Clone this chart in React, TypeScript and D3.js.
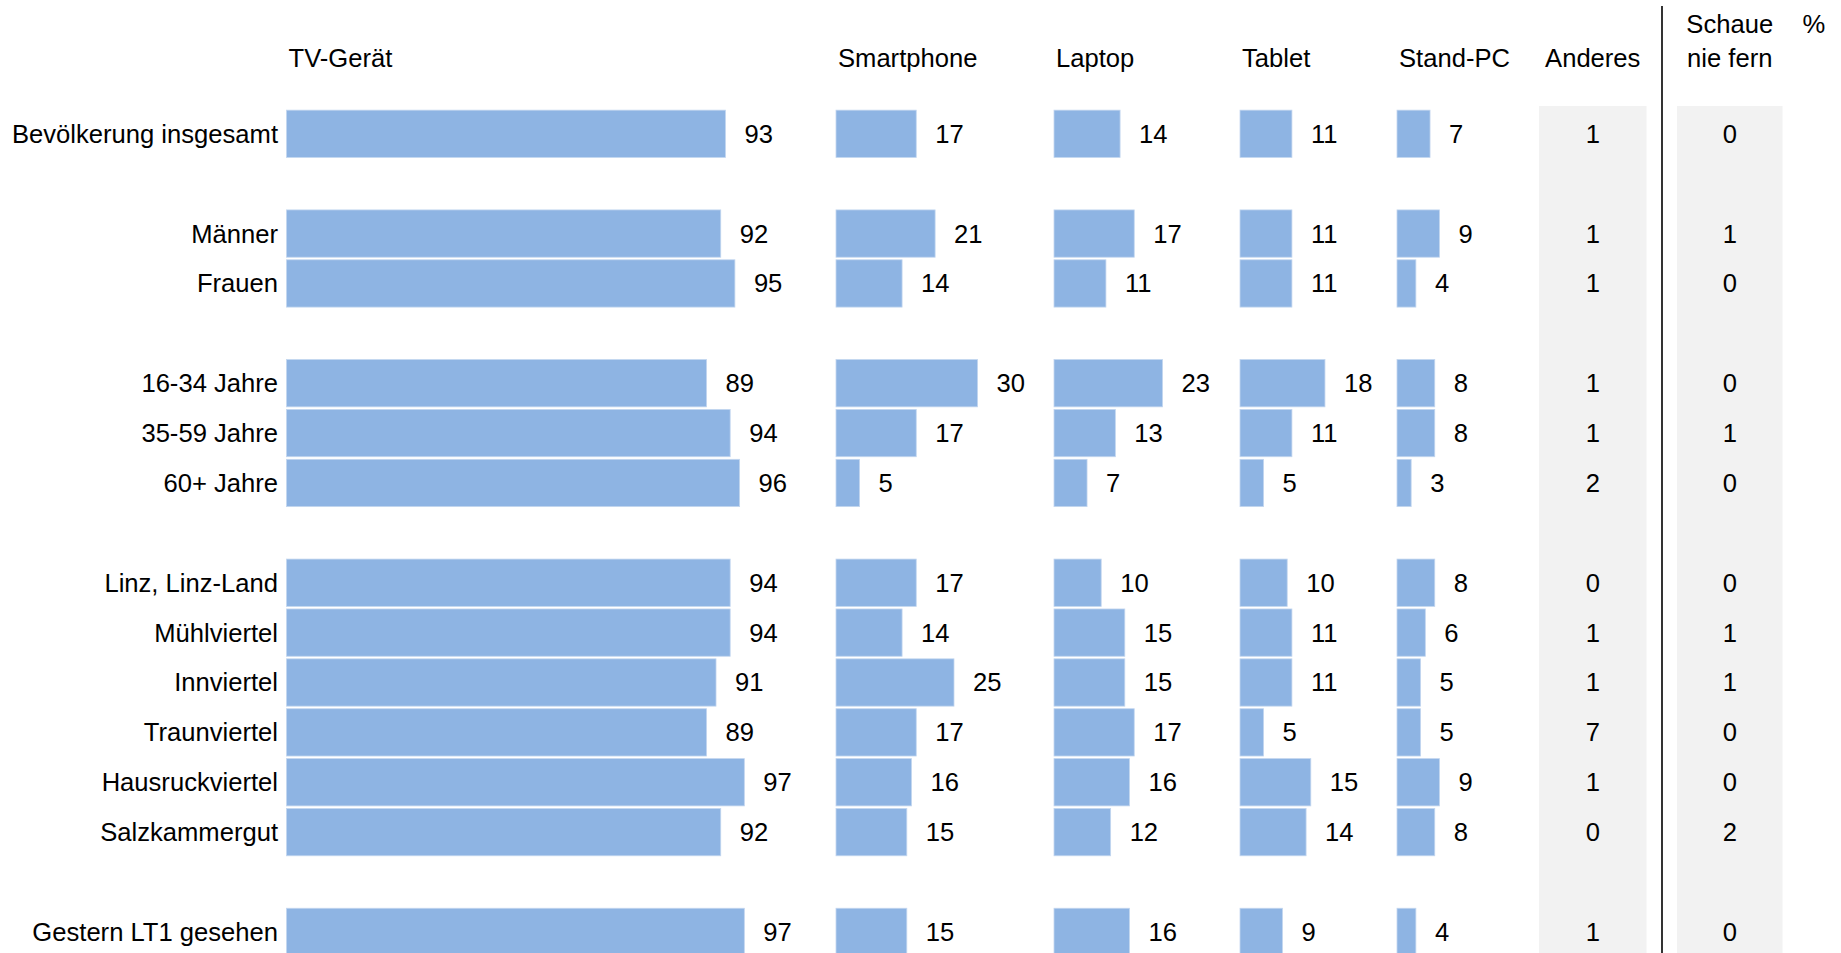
import React from "react";
import * as d3 from "d3";

const rowLabels = [
  "Bevölkerung insgesamt",
  "Männer",
  "Frauen",
  "16-34 Jahre",
  "35-59 Jahre",
  "60+ Jahre",
  "Linz, Linz-Land",
  "Mühlviertel",
  "Innviertel",
  "Traunviertel",
  "Hausruckviertel",
  "Salzkammergut",
  "Gestern LT1 gesehen",
];
const rowSlots = [0, 2, 3, 5, 6, 7, 9, 10, 11, 12, 13, 14, 16];

const barHeaders = ["TV-Gerät", "Smartphone", "Laptop", "Tablet", "Stand-PC"];
const tvValues = [93, 92, 95, 89, 94, 96, 94, 94, 91, 89, 97, 92, 97];
const smartphoneValues = [17, 21, 14, 30, 17, 5, 17, 14, 25, 17, 16, 15, 15];
const laptopValues = [14, 17, 11, 23, 13, 7, 10, 15, 15, 17, 16, 12, 16];
const tabletValues = [11, 11, 11, 18, 11, 5, 10, 11, 11, 5, 15, 14, 9];
const standPcValues = [7, 9, 4, 8, 8, 3, 8, 6, 5, 5, 9, 8, 4];
const anderesValues = [1, 1, 1, 1, 1, 2, 0, 1, 1, 7, 1, 0, 1];
const nieFernValues = [0, 1, 0, 0, 1, 0, 0, 1, 1, 0, 0, 2, 0];

const barSeries = [tvValues, smartphoneValues, laptopValues, tabletValues, standPcValues];
const panelStarts = [286.5, 836, 1054, 1240, 1397];

const W = 1841;
const H = 953;
const FONT = "'Liberation Sans', Arial, sans-serif";
const FS = 25.6;
const BAR = "#8eb4e3";

export default function App() {
  const y = d3.scaleLinear().domain([0, 16]).range([133.8, 931.9]);
  const x = d3.scaleLinear().domain([0, 100]).range([0, 472]);
  const barH = 47.3;
  const headerY = 58.5;
  const anderesX0 = 1539, anderesX1 = 1646.5;
  const nieX0 = 1677, nieX1 = 1782.5;
  const anderesC = (anderesX0 + anderesX1) / 2;
  const nieC = (nieX0 + nieX1) / 2;

  return (
    <svg
      width={W}
      height={H}
      style={{ position: "absolute", left: 0, top: 0, display: "block", background: "#fff" }}
      fontFamily={FONT}
      fontSize={FS}
    >
      <rect x={anderesX0} y={106} width={anderesX1 - anderesX0} height={H - 106} fill="#f2f2f2" />
      <rect x={nieX0} y={106} width={nieX1 - nieX0} height={H - 106} fill="#f2f2f2" />
      <line x1={1662} x2={1662} y1={6} y2={H} stroke="#000" strokeWidth={1.6} />

      {barHeaders.map((h, i) => (
        <text key={h} x={panelStarts[i] + 2} y={headerY} dy="0.35em" fill="#000">
          {h}
        </text>
      ))}
      <text x={anderesC} y={headerY} dy="0.35em" textAnchor="middle">Anderes</text>
      <text x={nieC} y={24.5} dy="0.35em" textAnchor="middle">Schaue</text>
      <text x={nieC} y={headerY} dy="0.35em" textAnchor="middle">nie fern</text>
      <text x={1814} y={24.5} dy="0.35em" textAnchor="middle">%</text>

      {rowLabels.map((lab, r) => {
        const cy = y(rowSlots[r]);
        return (
          <g key={lab}>
            <text x={278} y={cy} dy="0.35em" textAnchor="end">{lab}</text>
            {barSeries.map((vals, i) => {
              const w = x(vals[r]);
              return (
                <g key={i}>
                  <rect
                    x={panelStarts[i]}
                    y={cy - barH / 2}
                    width={w}
                    height={barH}
                    fill={BAR}
                    stroke="#c3d6ef"
                    strokeWidth={0.8}
                  />
                  <text x={panelStarts[i] + w + 19} y={cy} dy="0.35em">{vals[r]}</text>
                </g>
              );
            })}
            <text x={anderesC} y={cy} dy="0.35em" textAnchor="middle">{anderesValues[r]}</text>
            <text x={nieC} y={cy} dy="0.35em" textAnchor="middle">{nieFernValues[r]}</text>
          </g>
        );
      })}
    </svg>
  );
}
